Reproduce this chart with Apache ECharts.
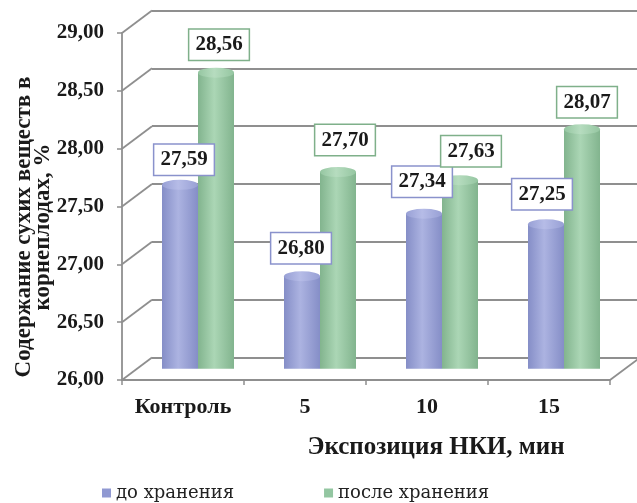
<!DOCTYPE html>
<html>
<head>
<meta charset="utf-8">
<script src="https://cdn.jsdelivr.net/npm/echarts/dist/echarts.min.js"></script>
<style>
  html, body { margin: 0; padding: 0; background: #fff; }
  #chart { width: 637px; height: 503px; }
</style>
</head>
<body>
<div id="chart"></div>
<script>
// values
var categories = ['Контроль', '5', '10', '15'];
var beforeStorage = [27.59, 26.80, 27.34, 27.25];
var afterStorage = [28.56, 27.70, 27.63, 28.07];
var yTicks = [26, 26.5, 27, 27.5, 28, 28.5, 29];
var seriesNames = ['до хранения', 'после хранения'];

// label nudges (the boxes were moved by hand in the original)
var beforeLabelShift = [[4, 2], [-1, -1], [-2, -5], [-4, -3]];
var afterLabelShift = [[3, -1], [7, -5], [11, -2], [5, 0]];

var DX = 30, DY = -22.5;          // depth offset front -> back wall
var BAR_W = 36;
var serif = '"Liberation Serif", "Times New Roman", serif';
var gridGrey = '#8f8f8f';

function fmt(v) { return v.toFixed(2).replace('.', ','); }

function cyl(edge, mid) {
  return {
    type: 'linear', x: 0, y: 0, x2: 1, y2: 0,
    colorStops: [
      { offset: 0, color: edge },
      { offset: 0.45, color: mid },
      { offset: 1, color: edge }
    ]
  };
}

var blue = { body: cyl('#858ec7', '#acb3e1'), top: cyl('#98a0d5', '#b6bce7'), border: '#8a92cc', legend: '#9099d2', side: -1 };
var green = { body: cyl('#82b48e', '#abd6b5'), top: cyl('#95c6a1', '#b6dcbf'), border: '#7fb08a', legend: '#93c6a1', side: 1 };

function barSeries(name, values, c) {
  return {
    name: name, type: 'bar', xAxisIndex: 2, yAxisIndex: 2,
    barWidth: BAR_W, barGap: 0, silent: true, z: 3,
    itemStyle: { color: c.body },
    data: values
  };
}

// elliptic ends of the cylinders; all caps share one slot and are moved sideways
function capSeries(values, c, atEnd) {
  return {
    type: 'pictorialBar', xAxisIndex: 2, yAxisIndex: 2,
    barWidth: BAR_W, barGap: '-100%', silent: true, z: atEnd ? 4 : 2,
    symbol: 'circle', symbolSize: [BAR_W, 10],
    symbolPosition: atEnd ? 'end' : 'start',
    symbolOffset: [c.side * BAR_W / 2, atEnd ? '-50%' : '50%'],
    itemStyle: { color: atEnd ? c.top : c.body },
    data: values
  };
}

// value boxes, kept above every cylinder
function labelSeries(values, shifts, c) {
  return {
    type: 'pictorialBar', xAxisIndex: 2, yAxisIndex: 2,
    barWidth: BAR_W, barGap: '-100%', silent: true, z: 6,
    symbol: 'rect', symbolSize: [1, 1], symbolPosition: 'end',
    itemStyle: { color: 'rgba(0,0,0,0)' },
    label: {
      show: true, position: 'top', distance: 12,
      formatter: function (p) { return fmt(p.value); },
      fontFamily: serif, fontWeight: 'bold', fontSize: 21, color: '#1a1a1a',
      backgroundColor: '#fff', borderColor: c.border, borderWidth: 1.5,
      padding: [4, 6, 4, 6], lineHeight: 22
    },
    data: values.map(function (v, i) {
      return { value: v, label: { offset: [shifts[i][0] + c.side * BAR_W / 2, shifts[i][1]] } };
    })
  };
}

var chart = echarts.init(document.getElementById('chart'));

var option = {
  animation: false,
  grid: [
    { left: 122, top: 33, width: 488, height: 347 },          // front plane
    { left: 122 + DX, top: 33 + DY, width: 488, height: 347 }, // back wall
    { left: 122 + DX / 2, top: 33 + DY / 2, width: 488, height: 347 } // bars
  ],
  xAxis: [
    {
      gridIndex: 0, type: 'category', data: categories,
      axisLine: { show: true, lineStyle: { color: gridGrey, width: 1.8 } },
      axisTick: { show: true, interval: 0, length: 5, lineStyle: { color: gridGrey, width: 1.5 } },
      axisLabel: { interval: 0, margin: 16, fontFamily: serif, fontWeight: 'bold', fontSize: 22, color: '#1a1a1a' },
      name: 'Экспозиция НКИ, мин', nameLocation: 'middle', nameGap: 55,
      nameTextStyle: { fontFamily: serif, fontWeight: 'bold', fontSize: 25, color: '#1a1a1a', padding: [0, 0, 0, 140] }
    },
    { gridIndex: 1, type: 'category', data: categories, show: false },
    { gridIndex: 2, type: 'category', data: categories, show: false }
  ],
  yAxis: [
    {
      gridIndex: 0, type: 'value', min: 26, max: 29, interval: 0.5,
      axisLine: { show: true, lineStyle: { color: gridGrey, width: 1.8 } },
      axisTick: { show: true, length: 5, lineStyle: { color: gridGrey, width: 1.5 } },
      splitLine: { show: false },
      axisLabel: { margin: 18, formatter: fmt, fontFamily: serif, fontWeight: 'bold', fontSize: 21, color: '#1a1a1a' }
    },
    {
      gridIndex: 1, type: 'value', min: 26, max: 29, interval: 0.5,
      axisLine: { show: false }, axisTick: { show: false }, axisLabel: { show: false },
      splitLine: { show: true, lineStyle: { color: gridGrey, width: 1.8 } }
    },
    { gridIndex: 2, type: 'value', min: 26, max: 29, interval: 0.5, show: false, splitLine: { show: false } }
  ],
  legend: {
    left: 97, top: 479, itemWidth: 9, itemHeight: 9, itemGap: 90, icon: 'rect',
    selectedMode: false,
    textStyle: { fontFamily: '"DejaVu Serif", serif', fontSize: 18, color: '#222' },
    data: [
      { name: seriesNames[0], itemStyle: { color: blue.legend } },
      { name: seriesNames[1], itemStyle: { color: green.legend } }
    ]
  },
  graphic: [{
    type: 'text', x: 34, y: 227, rotation: Math.PI / 2,
    style: {
      text: 'Содержание сухих веществ в\nкорнеплодах, %',
      font: 'bold 23px ' + serif, fill: '#1a1a1a',
      textAlign: 'center', textVerticalAlign: 'middle', lineHeight: 19
    }
  }],
  series: [
    {
      // depth connectors from the front axis ticks to the back wall
      type: 'custom', xAxisIndex: 0, yAxisIndex: 0, silent: true, z: 1,
      data: yTicks.map(function (v) { return [0, v]; }),
      renderItem: function (params, api) {
        var cs = params.coordSys;
        var y = api.coord([0, api.value(1)])[1];
        var style = { stroke: gridGrey, lineWidth: 1.8 };
        var children = [{ type: 'line', shape: { x1: cs.x, y1: y, x2: cs.x + DX, y2: y + DY }, style: style }];
        if (params.dataIndex === 0) {
          children.push({ type: 'line', shape: { x1: cs.x + cs.width, y1: y, x2: cs.x + cs.width + DX, y2: y + DY }, style: style });
        }
        return { type: 'group', children: children };
      }
    },
    capSeries(beforeStorage, blue, false),
    capSeries(afterStorage, green, false),
    barSeries(seriesNames[0], beforeStorage, blue),
    barSeries(seriesNames[1], afterStorage, green),
    capSeries(beforeStorage, blue, true),
    capSeries(afterStorage, green, true),
    labelSeries(beforeStorage, beforeLabelShift, blue),
    labelSeries(afterStorage, afterLabelShift, green)
  ]
};

chart.setOption(option);
</script>
</body>
</html>
